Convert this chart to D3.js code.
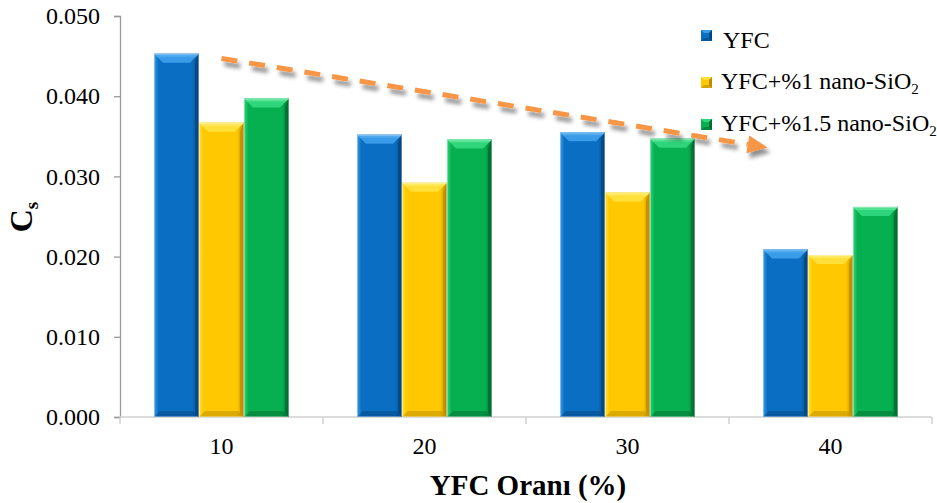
<!DOCTYPE html>
<html>
<head>
<meta charset="utf-8">
<script src="https://cdn.jsdelivr.net/npm/d3@7"></script>
<style>
html,body{margin:0;padding:0;background:#fff;}
svg{display:block;}
</style>
</head>
<body>
<svg id="chart" width="937" height="503"></svg>
<script>
// ---- data ----
const categories = ["10", "20", "30", "40"];
const seriesNames = ["YFC", "YFC+%1 nano-SiO", "YFC+%1.5 nano-SiO"];
const seriesSubs = ["", "2", "2"];
const valuesYFC = [0.0453, 0.0352, 0.0355, 0.0209];
const valuesYFC1 = [0.0367, 0.0292, 0.0280, 0.0202];
const valuesYFC15 = [0.0397, 0.0346, 0.0347, 0.0262];
const yTicks = [0.000, 0.010, 0.020, 0.030, 0.040, 0.050];
const xTitle = "YFC Oranı (%)";
// trend arrow (category-index position, value)
const trendStart = [0.5, 0.0447];
const trendEnd = [3.19, 0.0336];

const series = [valuesYFC, valuesYFC1, valuesYFC15];
const palette = [
  {main:"#0a6fc2", light:"#3a9be8", lighter:"#5cb0f0", dark:"#04467f"},
  {main:"#ffc800", light:"#ffe03a", lighter:"#ffec70", dark:"#b98c00"},
  {main:"#06b050", light:"#2fd57a", lighter:"#5fe69a", dark:"#036b30"}
];
const FONT = "Liberation Serif";

const svg = d3.select("#chart");
const defs = svg.append("defs");

const x0 = 120, x1 = 932, yBottom = 417, yTop = 16;
const x = d3.scaleBand().domain(categories).range([x0, x1]).padding(0);
const xs = d3.scaleBand().domain(d3.range(series.length)).range([0, x.bandwidth()]).paddingInner(0).paddingOuter(0.756);
const xc = d3.scaleLinear().domain([0, categories.length]).range([x0, x1]);
const y = d3.scaleLinear().domain([0, 0.05]).range([yBottom, yTop]);

// gradients
palette.forEach((p, i) => {
  const g = defs.append("linearGradient").attr("id", "g" + i).attr("x1", 0).attr("x2", 1).attr("y1", 0).attr("y2", 0);
  g.append("stop").attr("offset", "0%").attr("stop-color", p.light);
  g.append("stop").attr("offset", "10%").attr("stop-color", p.main);
  g.append("stop").attr("offset", "85%").attr("stop-color", p.main);
  g.append("stop").attr("offset", "100%").attr("stop-color", p.dark);
});
const sh = defs.append("filter").attr("id", "shadow").attr("x", "-10%").attr("y", "-50%").attr("width", "130%").attr("height", "250%");
sh.append("feGaussianBlur").attr("in", "SourceAlpha").attr("stdDeviation", 2.2);
sh.append("feOffset").attr("dx", 3).attr("dy", 5).attr("result", "ob");
sh.append("feComponentTransfer").append("feFuncA").attr("type", "linear").attr("slope", 0.45);
const mg = sh.append("feMerge");
mg.append("feMergeNode");
mg.append("feMergeNode").attr("in", "SourceGraphic");

// axes
const yAxis = d3.axisLeft(y).tickValues(yTicks).tickFormat(d3.format(".3f")).tickSize(6).tickPadding(14);
const gy = svg.append("g").attr("transform", `translate(${x0},0)`).call(yAxis).attr("font-family", FONT);
gy.select(".domain").attr("stroke", "#9a9a9a").attr("stroke-width", 1.3);
gy.selectAll(".tick line").attr("stroke", "#9a9a9a").attr("stroke-width", 1.3);
gy.selectAll(".tick text").attr("font-family", FONT).attr("font-size", 24).attr("fill", "#000");

const gx = svg.append("g").attr("transform", `translate(0,${yBottom})`);
gx.append("line").attr("x1", x0).attr("x2", x1).attr("stroke", "#d0d0d0").attr("stroke-width", 1.5);
gx.selectAll("line.tk").data(categories.concat(["end"])).enter().append("line")
  .attr("x1", (d, i) => xc(i)).attr("x2", (d, i) => xc(i)).attr("y1", 0).attr("y2", 7)
  .attr("stroke", "#d0d0d0").attr("stroke-width", 1.5);
gx.selectAll("text").data(categories).enter().append("text")
  .attr("x", d => x(d) + x.bandwidth() / 2).attr("y", 37).attr("text-anchor", "middle")
  .attr("font-family", FONT).attr("font-size", 24).attr("fill", "#000").text(d => d);

// bars
const bw = xs.bandwidth();
series.forEach((vals, si) => {
  const p = palette[si];
  const g = svg.append("g");
  categories.forEach((c, ci) => {
    const bx = x(c) + xs(si), by = y(vals[ci]), bh = yBottom - by;
    const b = 9, s = 4;
    g.append("rect").attr("x", bx).attr("y", by).attr("width", bw).attr("height", bh).attr("fill", `url(#g${si})`);
    g.append("polygon").attr("points", [[bx, by], [bx + bw, by], [bx + bw - b, by + b], [bx + b, by + b]].join(" ")).attr("fill", p.light);
    g.append("polygon").attr("points", [[bx, by], [bx + bw, by], [bx + bw - 3, by + 3], [bx + 3, by + 3]].join(" ")).attr("fill", p.lighter).attr("opacity", 0.7);
    g.append("polygon").attr("points", [[bx + bw, by], [bx + bw, yBottom], [bx + bw - s, yBottom - s], [bx + bw - s, by + b]].join(" ")).attr("fill", p.dark).attr("opacity", 0.75);
    g.append("polygon").attr("points", [[bx, yBottom], [bx + bw, yBottom], [bx + bw - 6, yBottom - 6], [bx + 6, yBottom - 6]].join(" ")).attr("fill", p.dark).attr("opacity", 0.5);
    g.append("rect").attr("x", bx + 0.5).attr("y", by + 0.5).attr("width", bw - 1).attr("height", bh - 1)
      .attr("fill", "none").attr("stroke", "#ffffff").attr("stroke-opacity", 0.35).attr("stroke-width", 1);
  });
});

// trend arrow
const ax1 = xc(trendStart[0]), ay1 = y(trendStart[1]);
const ax2 = xc(trendEnd[0]), ay2 = y(trendEnd[1]);
const ang = Math.atan2(ay2 - ay1, ax2 - ax1);
const headL = 20, headW = 18;
const arrow = svg.append("g").attr("filter", "url(#shadow)");
const bx2 = ax2 - headL * Math.cos(ang), by2 = ay2 - headL * Math.sin(ang);
arrow.append("line").attr("x1", ax1).attr("y1", ay1).attr("x2", bx2).attr("y2", by2)
  .attr("stroke", "#f79646").attr("stroke-width", 5).attr("stroke-dasharray", "16,12");
const px = -Math.sin(ang), py = Math.cos(ang);
arrow.append("polygon").attr("points", [
  [ax2, ay2],
  [bx2 + px * headW / 2, by2 + py * headW / 2],
  [bx2 - px * headW / 2, by2 - py * headW / 2]
].join(" ")).attr("fill", "#f79646");

// legend
const legY = [36, 82, 124];
const legX = [723, 721, 721];
const leg = svg.append("g");
seriesNames.forEach((name, i) => {
  const p = palette[i];
  const mx = 701, my = legY[i] - 5 - (i === 0 ? 1 : 0), m = 11;
  leg.append("rect").attr("x", mx).attr("y", my).attr("width", m).attr("height", m).attr("fill", p.main);
  leg.append("polygon").attr("points", [[mx, my], [mx + m, my], [mx + m - 3, my + 3], [mx + 3, my + 3]].join(" ")).attr("fill", p.light);
  leg.append("polygon").attr("points", [[mx + m, my], [mx + m, my + m], [mx + m - 3, my + m - 3], [mx + m - 3, my + 3]].join(" ")).attr("fill", p.dark);
  leg.append("polygon").attr("points", [[mx, my + m], [mx + m, my + m], [mx + m - 3, my + m - 3], [mx + 3, my + m - 3]].join(" ")).attr("fill", p.dark).attr("opacity", 0.6);
  const t = leg.append("text").attr("x", legX[i]).attr("y", legY[i] + 7 + (i === 0 ? 5 : 0))
    .attr("font-family", FONT).attr("font-size", 24).attr("fill", "#000");
  t.append("tspan").text(name);
  if (seriesSubs[i]) t.append("tspan").attr("font-size", 15).attr("dy", 5).text(seriesSubs[i]);
});

// axis titles
svg.append("text").attr("x", 528).attr("y", 495).attr("text-anchor", "middle")
  .attr("font-family", FONT).attr("font-size", 29).attr("font-weight", "bold").attr("fill", "#000").text(xTitle);
const yt = svg.append("text").attr("transform", "translate(32,217) rotate(-90)").attr("text-anchor", "middle")
  .attr("font-family", FONT).attr("font-size", 32).attr("font-weight", "bold").attr("fill", "#000");
yt.append("tspan").text("C");
yt.append("tspan").attr("font-size", 19).attr("dy", 6).text("s");
</script>
</body>
</html>
